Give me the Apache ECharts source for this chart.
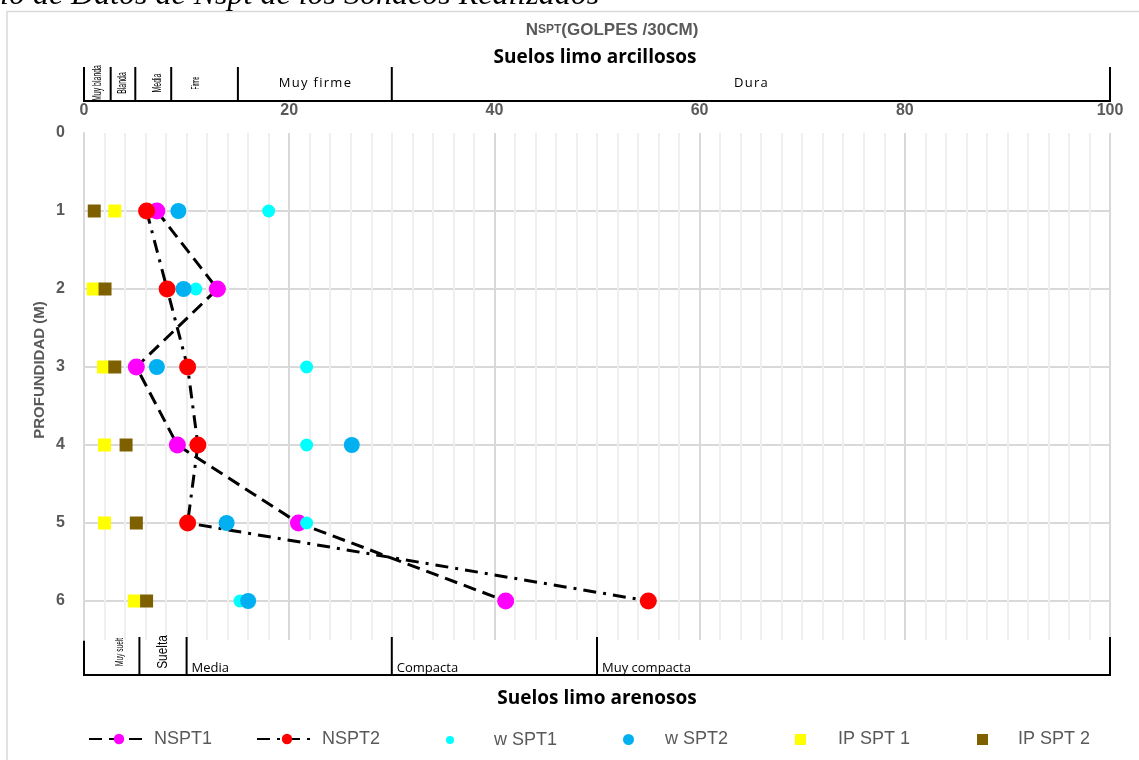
<!DOCTYPE html>
<html>
<head>
<meta charset="utf-8">
<script src="https://cdn.jsdelivr.net/npm/echarts@6/dist/echarts.min.js"></script>
<style>
html,body{margin:0;padding:0;background:#fff;}
#main{width:1139px;height:760px;}
</style>
</head>
<body>
<div id="main"></div>
<script>
// ---- data ----
const depths = [1, 2, 3, 4, 5, 6];
const nspt1 = [7.1, 13, 5.1, 9.1, 20.9, 41.1];
const nspt2 = [6.1, 8.1, 10.1, 11.1, 10.1, 55];
const wspt1 = [18, 10.9, 21.7, 21.7, 21.7, 15.2];
const wspt2 = [9.2, 9.7, 7.1, 26.1, 13.9, 16];
const ipspt1 = [3, 0.9, 1.9, 2, 2, 4.9];
const ipspt2 = [1, 2.05, 3, 4.1, 5.1, 6.1];
const seriesNames = ['NSPT1', 'NSPT2', 'w SPT1', 'w SPT2', 'IP SPT 1', 'IP SPT 2'];
const topBands = [['Muy blanda', 0, 2.6], ['Blanda', 2.6, 5], ['Media', 5, 8.5], ['Firme', 8.5, 15], ['Muy firme', 15, 30], ['Dura', 30, 100]];
const bottomBands = [['Muy suelt', 0, 5.4], ['Suelta', 5.4, 10], ['Media', 10, 30], ['Compacta', 30, 50], ['Muy compacta', 50, 100]];
const chartTitle = ['N', 'SPT', '(GOLPES /30CM)'];
const topTitle = 'Suelos limo arcillosos';
const bottomTitle = 'Suelos limo arenosos';
const yName = 'PROFUNDIDAD (M)';
const headerText = 'io de Datos de Nspt de los Sondeos Realizados';

const pair = (xs) => xs.map((v, i) => [v, depths[i]]);

const gray = '#595959';
const legendText = {color: gray, fontSize: 18, fontFamily: 'Liberation Sans'};
const lt = (pad) => Object.assign({}, legendText, {padding: [0, 0, 0, pad]});

const option = {
  animation: false,
  backgroundColor: '#fff',
  grid: {left: 84, right: 29, top: 133, bottom: 120},
  xAxis: {
    type: 'value', position: 'top', min: 0, max: 100, interval: 20,
    axisLine: {show: false}, axisTick: {show: false},
    axisLabel: {color: gray, fontSize: 16, fontWeight: 'bold', fontFamily: 'Liberation Sans', margin: 14},
    splitLine: {show: true, lineStyle: {color: '#d9d9d9', width: 2}},
    minorTick: {show: false, splitNumber: 10},
    minorSplitLine: {show: true, lineStyle: {color: '#efefef', width: 2}}
  },
  yAxis: {
    type: 'value', inverse: true, min: 0, max: 6.5, interval: 1,
    axisLine: {show: true, lineStyle: {color: '#d9d9d9', width: 2}},
    axisTick: {show: false},
    axisLabel: {color: gray, fontSize: 16, fontWeight: 'bold', fontFamily: 'Liberation Sans', margin: 19,
      formatter: (v) => (Number.isInteger(v) ? String(v) : '')},
    splitLine: {show: true, showMinLine: false, showMaxLine: false, lineStyle: {color: '#d9d9d9', width: 2}}
  },
  legend: [
    {data: [seriesNames[0]], left: 88, top: 730, padding: 0, itemWidth: 60, itemHeight: 13, textStyle: legendText},
    {data: [seriesNames[1]], left: 256, top: 730, padding: 0, itemWidth: 60, itemHeight: 13, textStyle: legendText},
    {data: [seriesNames[2]], left: 446, top: 731, padding: 0, itemWidth: 8, itemHeight: 8, textStyle: lt(35)},
    {data: [seriesNames[3]], left: 623, top: 730.5, padding: 0, itemWidth: 11, itemHeight: 11, textStyle: lt(26)},
    {data: [seriesNames[4]], left: 795, top: 730.5, padding: 0, itemWidth: 11, itemHeight: 11, textStyle: lt(27)},
    {data: [seriesNames[5]], left: 977, top: 730.5, padding: 0, itemWidth: 11, itemHeight: 11, textStyle: lt(25)}
  ],
  series: [
    {name: seriesNames[0], type: 'line', data: pair(nspt1), symbol: 'circle', symbolSize: 17, showSymbol: true,
      itemStyle: {color: '#FF00FF'}, lineStyle: {color: '#000', width: 3, type: [13, 7]}, z: 2},
    {name: seriesNames[1], type: 'line', data: pair(nspt2), symbol: 'circle', symbolSize: 17, showSymbol: true,
      itemStyle: {color: '#FF0000'}, lineStyle: {color: '#000', width: 3, type: [13, 7, 3, 7]}, z: 3},
    {name: seriesNames[2], type: 'scatter', data: pair(wspt1), symbol: 'circle', symbolSize: 13,
      itemStyle: {color: '#00FFFF', opacity: 1}, z: 4},
    {name: seriesNames[3], type: 'scatter', data: pair(wspt2), symbol: 'circle', symbolSize: 16,
      itemStyle: {color: '#00B0F0', opacity: 1}, z: 5},
    {name: seriesNames[4], type: 'scatter', data: pair(ipspt1), symbol: 'rect', symbolSize: 13,
      itemStyle: {color: '#FFFF00', opacity: 1}, z: 6},
    {name: seriesNames[5], type: 'scatter', data: pair(ipspt2), symbol: 'rect', symbolSize: 13,
      itemStyle: {color: '#7F6000', opacity: 1}, z: 7}
  ]
};

const chart = echarts.init(document.getElementById('main'), null, {renderer: 'canvas'});
chart.setOption(option);

const px = (v) => chart.convertToPixel({xAxisIndex: 0}, v);
const g = [];
// frame and header
g.push({type: 'rect', z: -10, shape: {x: 7, y: 11.5, width: 1140, height: 760}, style: {fill: '#fff', stroke: '#d9d9d9', lineWidth: 1.5}});
g.push({type: 'text', z: 10, x: 0, y: -4, style: {text: headerText, font: 'italic 32px "Liberation Serif"', fill: '#000', verticalAlign: 'middle'}});
// titles
g.push({type: 'text', x: 612, y: 30, style: {
  text: '{a|' + chartTitle[0] + '}{b|' + chartTitle[1] + '}{a|' + chartTitle[2] + '}', align: 'center', verticalAlign: 'middle',
  rich: {a: {fontSize: 17, fontWeight: 'bold', fontFamily: 'Liberation Sans', fill: gray},
         b: {fontSize: 12, fontWeight: 'bold', fontFamily: 'Liberation Sans', fill: gray}}}});
g.push({type: 'text', x: 595, y: 58, style: {text: topTitle, align: 'center', verticalAlign: 'middle', font: 'bold 19px "Open Sans"', fill: '#000'}});
g.push({type: 'text', x: 597, y: 699, style: {text: bottomTitle, align: 'center', verticalAlign: 'middle', font: 'bold 19px "Open Sans"', fill: '#000'}});
g.push({type: 'text', x: 40, y: 370, rotation: Math.PI / 2, style: {text: yName, align: 'center', verticalAlign: 'middle', font: 'bold 15px "Liberation Sans"', fill: gray}});

// top band
const lineStyle = {stroke: '#000', lineWidth: 2};
g.push({type: 'line', shape: {x1: px(0) - 1, y1: 101, x2: px(100) + 1, y2: 101}, style: lineStyle});
const topEdges = [topBands[0][1]].concat(topBands.map(b => b[2]));
topEdges.forEach(v => g.push({type: 'line', shape: {x1: px(v), y1: 67, x2: px(v), y2: 101}, style: lineStyle}));
topBands.forEach(([name, a, b], i) => {
  const cx = (px(a) + px(b)) / 2 + (i === 2 ? 4 : i === 3 ? -8 : 0);
  if (i < 4) {
    g.push({type: 'text', x: cx, y: 83, rotation: Math.PI / 2, scaleX: i === 3 ? 0.5 : 0.58,
      style: {text: name, align: 'center', verticalAlign: 'middle', font: (i === 3 ? '10px' : '12px') + ' "Liberation Sans"', fill: '#000'}});
  } else {
    g.push({type: 'text', x: cx, y: 83, style: {text: name.split('').join('\u200A'), align: 'center', verticalAlign: 'middle', font: '13px "Open Sans"', fill: '#000'}});
  }
});
// bottom band
g.push({type: 'line', shape: {x1: px(0) - 1, y1: 675, x2: px(100) + 1, y2: 675}, style: lineStyle});
const botEdges = [bottomBands[0][1]].concat(bottomBands.map(b => b[2]));
botEdges.forEach(v => g.push({type: 'line', shape: {x1: px(v), y1: 637, x2: px(v), y2: 675}, style: lineStyle}));
bottomBands.forEach(([name, a, b], i) => {
  if (i < 2) {
    const cx = (px(a) + px(b)) / 2 + (i === 0 ? 8 : 0);
    g.push({type: 'text', x: cx, y: 652, rotation: Math.PI / 2, scaleX: i === 0 ? 0.6 : 0.85,
      style: {text: name, align: 'center', verticalAlign: 'middle', font: (i === 0 ? '11px' : '14px') + ' "Liberation Sans"', fill: '#000'}});
  } else {
    g.push({type: 'text', x: px(a) + 5, y: 668, style: {text: name, align: 'left', verticalAlign: 'middle', font: '13px "Open Sans"', fill: '#000'}});
  }
});
chart.setOption({graphic: {elements: g}});
</script>
</body>
</html>
